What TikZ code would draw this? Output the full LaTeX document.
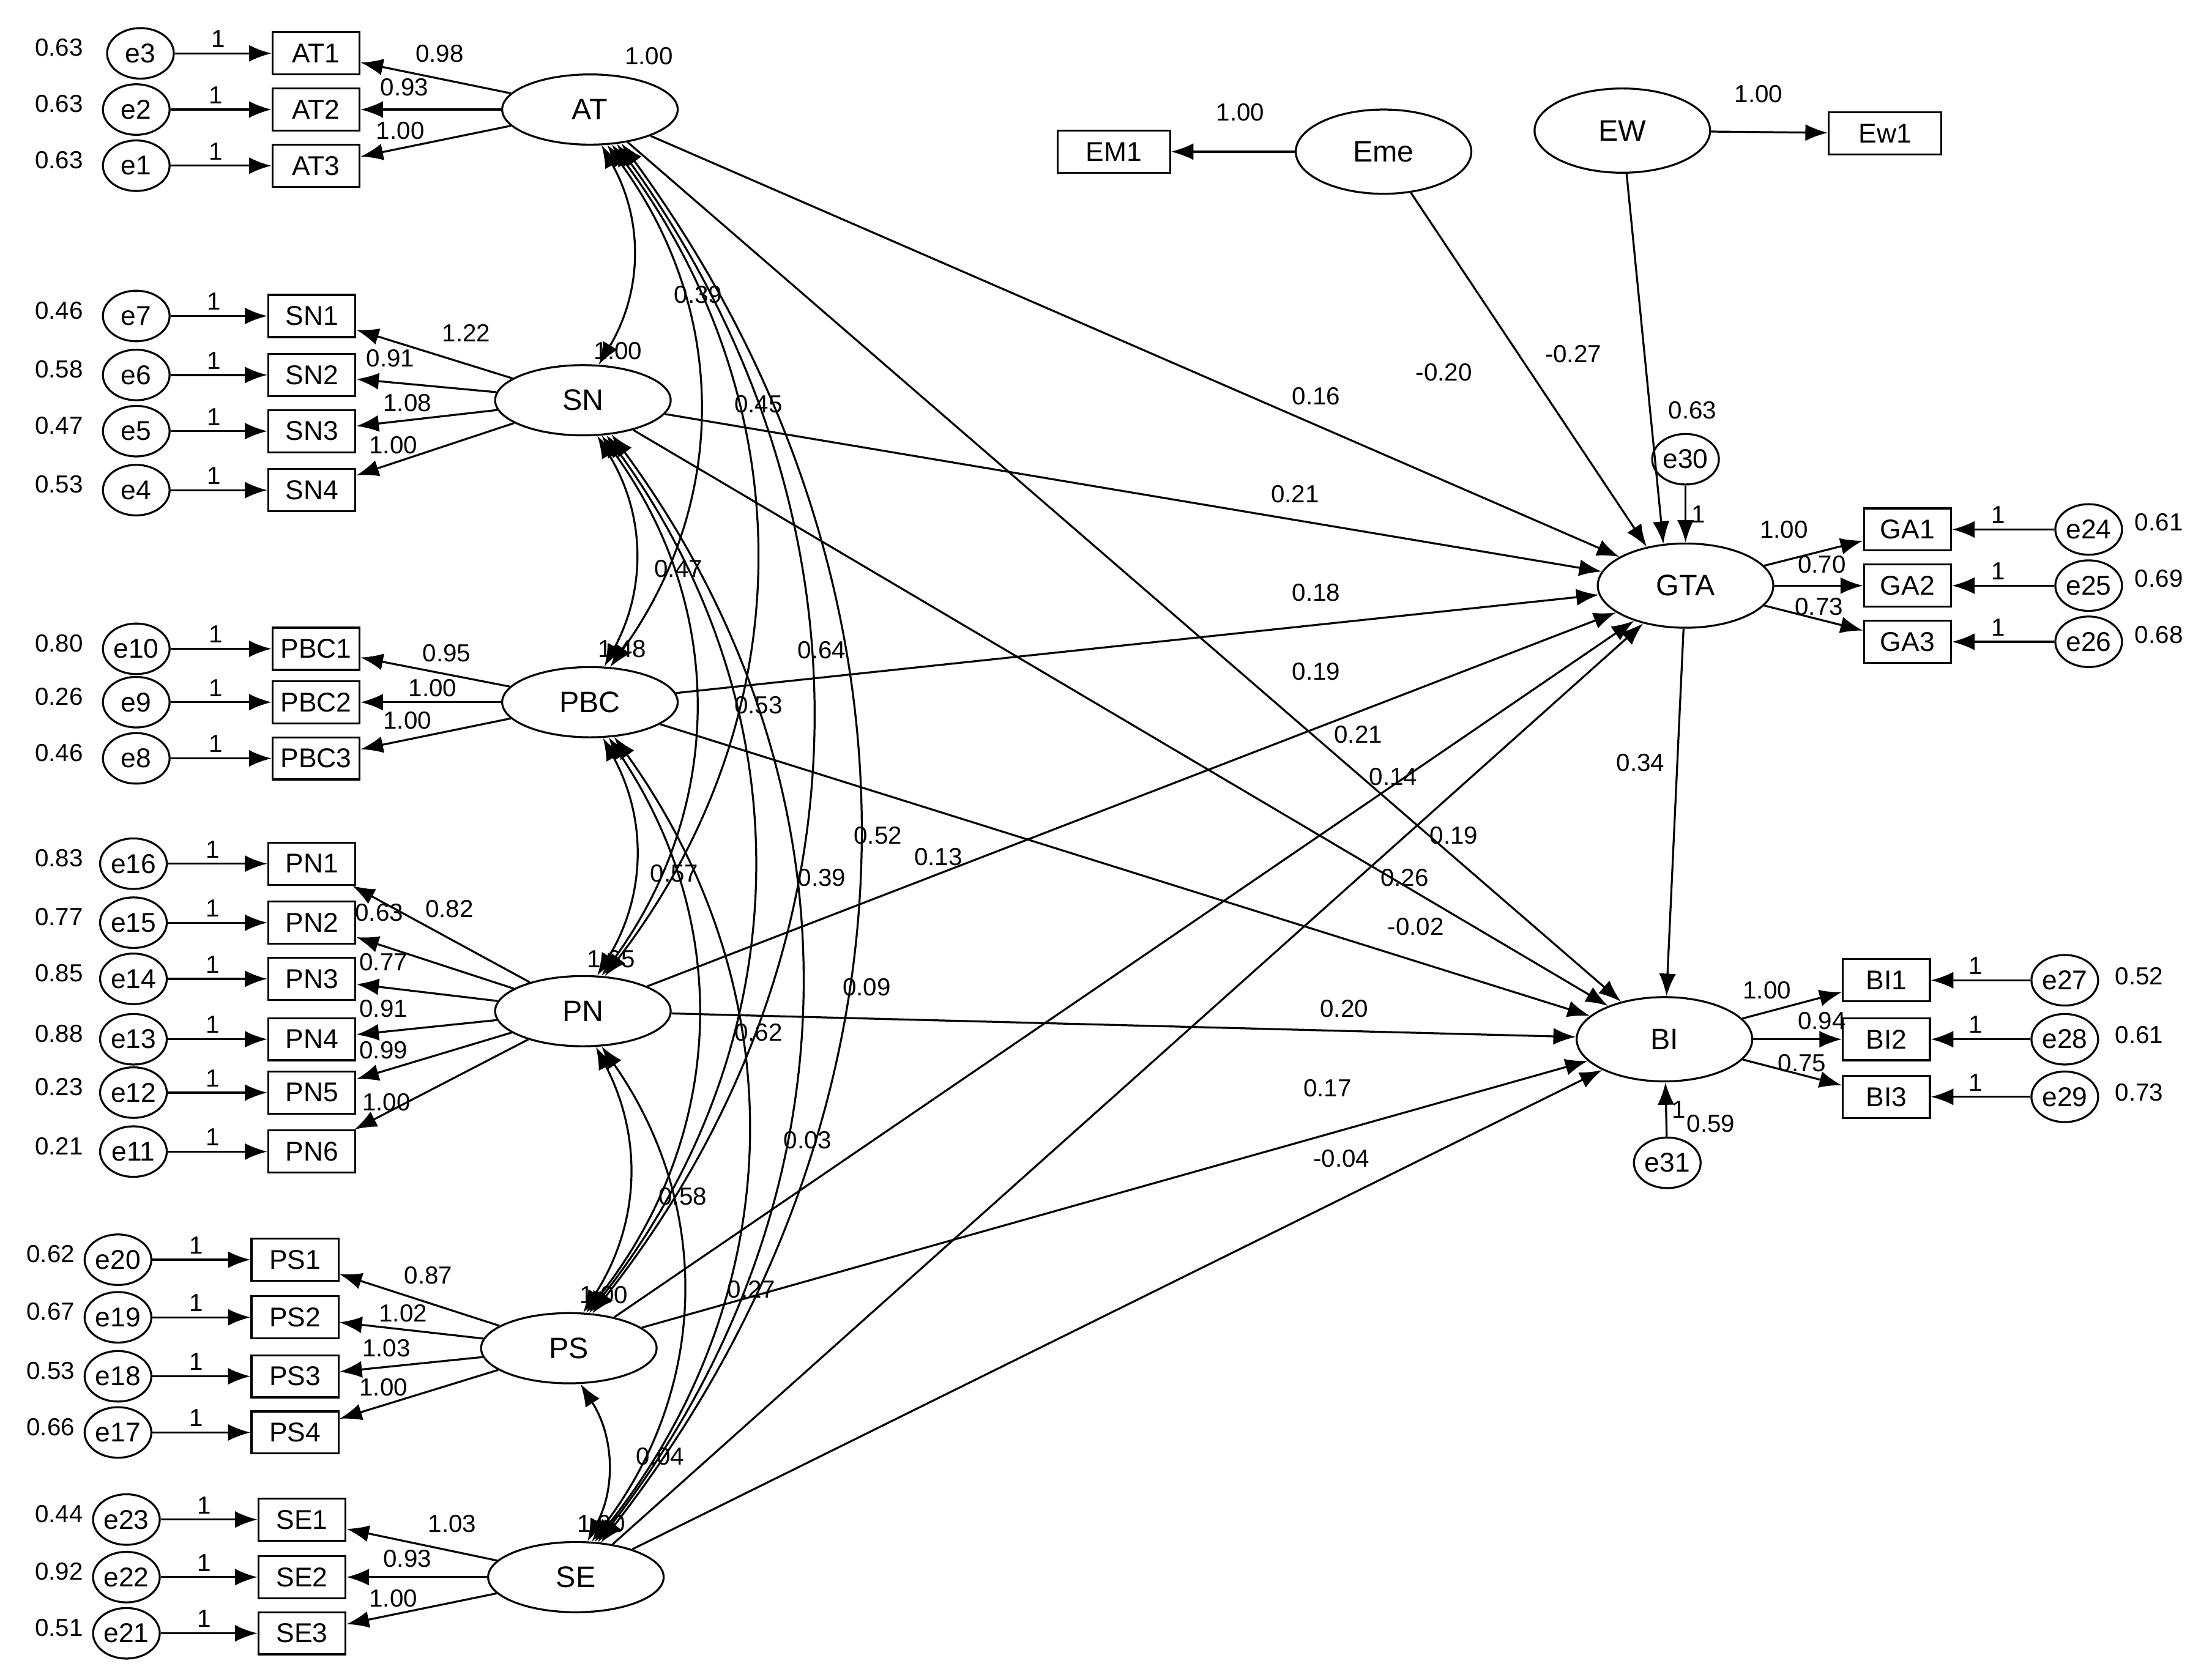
\documentclass[tikz,border=0pt]{standalone}
\usepackage{fontspec}
\setmainfont{Liberation Sans}
\usetikzlibrary{arrows.meta,shapes.geometric}
\begin{document}
\begin{tikzpicture}[x=0.02cm,y=-0.02cm,
 lat/.style={ellipse,draw,thick,minimum width=2.5cm,minimum height=1cm,font=\fontsize{12}{14}\selectfont,inner sep=0},
 big/.style={ellipse,draw,thick,minimum width=2.5cm,minimum height=1.2cm,font=\fontsize{12}{14}\selectfont,inner sep=0},
 err/.style={ellipse,draw,thick,minimum width=0.95cm,minimum height=0.72cm,inner sep=0,font=\fontsize{11}{13}\selectfont},
 obs/.style={rectangle,draw,thick,minimum width=1.24cm,minimum height=0.6cm,inner sep=1pt,font=\fontsize{11}{13}\selectfont},
 lab/.style={font=\fontsize{10}{12}\selectfont,inner sep=0},
 arr/.style={thick,-{Latex[length=3.2mm,width=2.4mm]}},
 cov/.style={thick,{Latex[length=3.2mm,width=2.4mm]}-{Latex[length=3.2mm,width=2.4mm]}}]
\useasboundingbox (0,0) rectangle (1567,1196);
\newcommand{\mkind}[7]{% ename, rect, y, ex, rx, var, varx
 \node[err] (#1) at (#4,#3) {#1};
 \node[obs] (#2) at (#5,#3) {#2};
 \node[lab] at (#7,#3-4) {#6};
 \draw[arr] (#1) -- (#2) node[lab,pos=0.45,above=2pt] {1};}
% AT
\node[lat] (AT) at (420,78) {AT};
\mkind{e3}{AT1}{38}{100}{225}{0.63}{42}
\mkind{e2}{AT2}{78}{97}{225}{0.63}{42}
\mkind{e1}{AT3}{118}{97}{225}{0.63}{42}
% SN
\node[lat] (SN) at (415,285) {SN};
\mkind{e7}{SN1}{225}{97}{222}{0.46}{42}
\mkind{e6}{SN2}{267}{97}{222}{0.58}{42}
\mkind{e5}{SN3}{307}{97}{222}{0.47}{42}
\mkind{e4}{SN4}{349}{97}{222}{0.53}{42}
% PBC
\node[lat] (PBC) at (420,500) {PBC};
\mkind{e10}{PBC1}{462}{97}{225}{0.80}{42}
\mkind{e9}{PBC2}{500}{97}{225}{0.26}{42}
\mkind{e8}{PBC3}{540}{97}{225}{0.46}{42}
% PN
\node[lat] (PN) at (415,720) {PN};
\mkind{e16}{PN1}{615}{95}{222}{0.83}{42}
\mkind{e15}{PN2}{657}{95}{222}{0.77}{42}
\mkind{e14}{PN3}{697}{95}{222}{0.85}{42}
\mkind{e13}{PN4}{740}{95}{222}{0.88}{42}
\mkind{e12}{PN5}{778}{95}{222}{0.23}{42}
\mkind{e11}{PN6}{820}{95}{222}{0.21}{42}
% PS
\node[lat] (PS) at (405,960) {PS};
\mkind{e20}{PS1}{897}{84}{210}{0.62}{36}
\mkind{e19}{PS2}{938}{84}{210}{0.67}{36}
\mkind{e18}{PS3}{980}{84}{210}{0.53}{36}
\mkind{e17}{PS4}{1020}{84}{210}{0.66}{36}
% SE
\node[lat] (SE) at (410,1123) {SE};
\mkind{e23}{SE1}{1082}{90}{215}{0.44}{42}
\mkind{e22}{SE2}{1123}{90}{215}{0.92}{42}
\mkind{e21}{SE3}{1163}{90}{215}{0.51}{42}
% loadings
\foreach \l/\t in {AT/AT1,AT/AT2,AT/AT3,SN/SN1,SN/SN2,SN/SN3,SN/SN4,PBC/PBC1,PBC/PBC2,PBC/PBC3,PN/PN1,PN/PN2,PN/PN3,PN/PN4,PN/PN5,PN/PN6,PS/PS1,PS/PS2,PS/PS3,PS/PS4,SE/SE1,SE/SE2,SE/SE3}
 \draw[arr] (\l) -- (\t);
\foreach \x/\y/\t in {313/38/0.98,288/62/0.93,285/93/1.00,332/237/1.22,278/255/0.91,290/287/1.08,280/317/1.00,
 318/465/0.95,308/490/1.00,290/513/1.00,320/647/0.82,270/650/0.63,273/685/0.77,273/718/0.91,273/748/0.99,275/785/1.00,
 305/908/0.87,287/935/1.02,275/960/1.03,273/988/1.00,322/1085/1.03,290/1110/0.93,280/1138/1.00}
 \node[lab] at (\x,\y) {\t};
% latent variances
\foreach \x/\y/\t in {462/40/1.00,440/250/1.00,443/462/1.48,435/683/1.65,430/922/1.00,428/1085/1.00}
 \node[lab] at (\x,\y) {\t};
% covariances
\draw[cov] (AT.-72) to[bend left=30] (SN.66);
\draw[cov] (AT.-64) to[bend left=36] (PBC.60);
\draw[cov] (SN.-68) to[bend left=30] (PBC.68);
\draw[cov] (AT.-58) to[bend left=37] (PN.58);
\draw[cov] (SN.-62) to[bend left=36] (PN.62);
\draw[cov] (PBC.-70) to[bend left=30] (PN.68);
\draw[cov] (AT.-52) to[bend left=37] (PS.56);
\draw[cov] (SN.-56) to[bend left=37] (PS.60);
\draw[cov] (PBC.-62) to[bend left=36] (PS.64);
\draw[cov] (PN.-70) to[bend left=30] (PS.68);
\draw[cov] (AT.-47) to[bend left=37] (SE.54);
\draw[cov] (SN.-50) to[bend left=37] (SE.58);
\draw[cov] (PBC.-55) to[bend left=37] (SE.62);
\draw[cov] (PN.-62) to[bend left=36] (SE.66);
\draw[cov] (PS.-72) to[bend left=30] (SE.72);
\foreach \x/\y/\t in {497/210/0.39,540/288/0.45,483/405/0.47,585/463/0.64,540/502/0.53,480/622/0.57,625/595/0.52,
 668/610/0.13,585/625/0.39,617/703/0.09,540/735/0.62,575/812/0.03,486/852/0.58,535/918/0.27,470/1037/0.04}
 \node[lab] at (\x,\y) {\t};
% exogenous singles
\node[obs,minimum width=1.6cm] (EM1) at (793,108) {EM1};
\node[big] (Eme) at (985,108) {Eme};
\node[big] (EW) at (1155,93) {EW};
\node[obs,minimum width=1.6cm] (Ew1) at (1342,95) {Ew1};
\draw[arr] (Eme) -- (EM1);
\draw[arr] (EW) -- (Ew1);
\node[lab] at (883,80) {1.00};
\node[lab] at (1252,67) {1.00};
% GTA
\node[big] (GTA) at (1200,417) {GTA};
\node[err] (e30) at (1200,327) {e30};
\draw[arr] (e30) -- (GTA) node[lab,midway,right=2pt] {1};
\node[lab] at (1205,292) {0.63};
\foreach \o/\e/\y/\v in {GA1/e24/377/0.61,GA2/e25/417/0.69,GA3/e26/457/0.68}{
 \node[obs] (\o) at (1358,\y) {\o};
 \node[err] (\e) at (1487,\y) {\e};
 \draw[arr] (\e) -- (\o) node[lab,pos=0.55,above=2pt] {1};
 \draw[arr] (GTA) -- (\o);
 \node[lab] at (1537,\y-5) {\v};}
\node[lab] at (1270,377) {1.00};
\node[lab] at (1297,402) {0.70};
\node[lab] at (1295,432) {0.73};
% BI
\node[big] (BI) at (1185,740) {BI};
\node[err] (e31) at (1187,828) {e31};
\draw[arr] (e31) -- (BI) node[lab,midway,right=2pt] {1};
\node[lab] at (1218,800) {0.59};
\foreach \o/\e/\y/\v in {BI1/e27/698/0.52,BI2/e28/740/0.61,BI3/e29/781/0.73}{
 \node[obs] (\o) at (1343,\y) {\o};
 \node[err] (\e) at (1470,\y) {\e};
 \draw[arr] (\e) -- (\o) node[lab,pos=0.55,above=2pt] {1};
 \draw[arr] (BI) -- (\o);
 \node[lab] at (1523,\y-3) {\v};}
\node[lab] at (1258,705) {1.00};
\node[lab] at (1297,727) {0.94};
\node[lab] at (1283,757) {0.75};
% structural
\foreach \s in {AT,SN,PBC,PN,PS,SE} {\draw[arr] (\s) -- (GTA); \draw[arr] (\s) -- (BI);}
\draw[arr] (Eme) -- (GTA.135);
\draw[arr] (EW) -- (GTA.118);
\draw[arr] (GTA) -- (BI);
\foreach \x/\y/\t in {937/282/0.16,922/352/0.21,937/422/0.18,937/478/0.19,967/523/0.21,992/553/0.14,1035/595/0.19,
 1000/625/0.26,1008/660/-0.02,957/718/0.20,945/775/0.17,955/825/-0.04,1028/265/-0.20,1120/252/-0.27,1168/543/0.34}
 \node[lab] at (\x,\y) {\t};
\end{tikzpicture}
\end{document}
